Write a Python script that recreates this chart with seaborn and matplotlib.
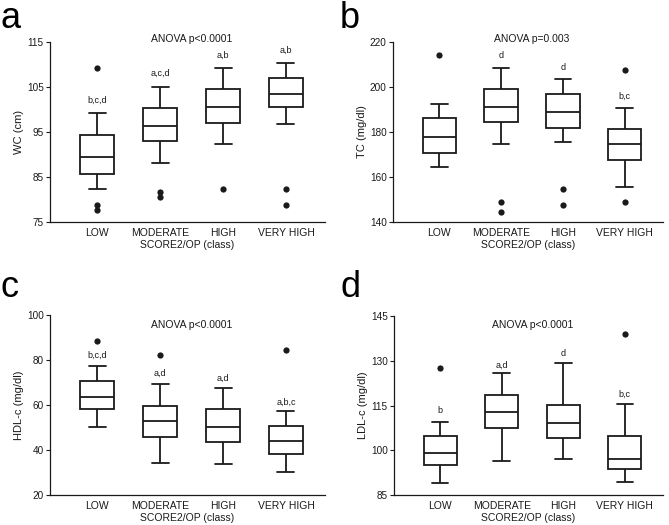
import numpy as np
import pandas as pd
import matplotlib
matplotlib.use("Agg")
import matplotlib.pyplot as plt
import seaborn as sns

# ---------------------------------------------------------------------------
# data (box = whisker low, Q1, median, Q3, whisker high)
# ---------------------------------------------------------------------------
CATS = ["LOW", "MODERATE", "HIGH", "VERY HIGH"]

# a) waist circumference
wc_whislo = [82.3, 88.2, 92.3, 96.7]
wc_q1 = [85.6, 93.0, 97.1, 100.6]
wc_med = [89.5, 96.4, 100.5, 103.4]
wc_q3 = [94.4, 100.3, 104.5, 106.9]
wc_whishi = [99.2, 105.1, 109.2, 110.3]
wc_out_group = ["LOW", "LOW", "LOW", "MODERATE", "MODERATE", "HIGH", "VERY HIGH", "VERY HIGH"]
wc_out_value = [109.2, 78.8, 77.7, 81.6, 80.5, 82.4, 82.4, 78.8]
wc_letters = ["b,c,d", "a,c,d", "a,b", "a,b"]
wc_letter_y = [102.1, 108.0, 112.1, 113.2]

# b) total cholesterol
tc_whislo = [164.4, 174.8, 175.5, 155.7]
tc_q1 = [170.7, 184.4, 182.0, 167.5]
tc_med = [178.0, 191.0, 188.8, 174.6]
tc_q3 = [186.1, 199.0, 197.1, 181.3]
tc_whishi = [192.3, 208.3, 203.4, 190.7]
tc_out_group = ["LOW", "MODERATE", "MODERATE", "HIGH", "HIGH", "VERY HIGH", "VERY HIGH"]
tc_out_value = [214.2, 149.0, 144.3, 154.8, 147.4, 207.4, 149.0]
tc_letters = ["", "d", "d", "b,c"]
tc_letter_y = [0, 214.2, 208.6, 195.7]

# c) HDL cholesterol
hdl_whislo = [50.2, 34.2, 33.9, 30.1]
hdl_q1 = [58.2, 45.9, 43.6, 38.1]
hdl_med = [63.6, 52.9, 50.4, 43.9]
hdl_q3 = [70.7, 59.5, 58.2, 50.8]
hdl_whishi = [77.3, 69.3, 67.6, 57.3]
hdl_out_group = ["LOW", "MODERATE", "VERY HIGH"]
hdl_out_value = [88.4, 82.3, 84.3]
hdl_letters = ["b,c,d", "a,d", "a,d", "a,b,c"]
hdl_letter_y = [82.2, 73.9, 71.7, 61.0]

# d) LDL cholesterol
ldl_whislo = [88.9, 96.5, 97.1, 89.5]
ldl_q1 = [95.1, 107.6, 104.2, 93.7]
ldl_med = [99.0, 112.7, 109.1, 97.0]
ldl_q3 = [104.7, 118.5, 115.1, 104.7]
ldl_whishi = [109.4, 125.8, 129.1, 115.4]
ldl_out_group = ["LOW", "VERY HIGH"]
ldl_out_value = [127.5, 138.9]
ldl_letters = ["b", "a,d", "d", "b,c"]
ldl_letter_y = [113.2, 128.5, 132.5, 118.9]

ANOVA_TEXT = ["ANOVA p<0.0001", "ANOVA p=0.003", "ANOVA p<0.0001", "ANOVA p<0.0001"]
ANOVA_Y = [115.6, 221.2, 95.6, 142.0]
YLABELS = ["WC (cm)", "TC (mg/dl)", "HDL-c (mg/dl)", "LDL-c (mg/dl)"]
YTICKS = [[75, 85, 95, 105, 115], [140, 160, 180, 200, 220],
          [20, 40, 60, 80, 100], [85, 100, 115, 130, 145]]
PANEL_TAGS = ["a", "b", "c", "d"]

LINE = "#1a1a1a"

sns.set_theme(style="ticks")
plt.rcParams["font.family"] = ["Liberation Sans", "DejaVu Sans"]


def draw_panel(ax, whislo, q1, med, q3, whishi, out_group, out_value,
               letters, letter_y, anova, anova_y, ylabel, yticks):
    vals = np.column_stack([whislo, q1, med, q3, whishi]).ravel()
    box_df = pd.DataFrame({"group": np.repeat(CATS, 5), "value": vals})
    sns.boxplot(data=box_df, x="group", y="value", order=CATS, whis=(0, 100),
                width=0.54, color="white", linecolor=LINE, linewidth=1.3,
                showfliers=False, ax=ax)
    sns.stripplot(x=out_group, y=out_value, order=CATS, jitter=False,
                  color=LINE, size=4.5, linewidth=0, ax=ax)

    for i, (txt, ty) in enumerate(zip(letters, letter_y)):
        if txt:
            ax.text(i, ty, txt, ha="center", va="center", fontsize=6.5, color=LINE)
    ax.text(1.5, anova_y, anova, ha="center", va="center", fontsize=7.5, color=LINE)

    ax.set_xlim(-0.75, 3.62)
    ax.set_ylim(yticks[0], yticks[-1])
    ax.set_yticks(yticks)
    ax.set_ylabel(ylabel, fontsize=8, labelpad=2, color=LINE)
    ax.set_xlabel("SCORE2/OP (class)", fontsize=7.5, labelpad=2, color=LINE)
    ax.tick_params(axis="x", length=0, pad=4, labelsize=7.5, colors=LINE)
    ax.tick_params(axis="y", length=3, width=0.8, pad=1.5, labelsize=7.2, colors=LINE)
    for side in ["left", "bottom"]:
        ax.spines[side].set_linewidth(0.9)
        ax.spines[side].set_color(LINE)
    sns.despine(ax=ax)


fig = plt.figure(figsize=(6.69, 5.25), dpi=100)
W, H = 669.0, 525.0
# axes boxes in pixels: left, right, top, bottom
boxes = [(50, 325, 42, 222), (393, 663, 42, 222),
         (50, 325, 315, 495), (394, 663, 316, 495)]
axes = [fig.add_axes([l / W, 1 - b / H, (r - l) / W, (b - t) / H])
        for l, r, t, b in boxes]

draw_panel(axes[0], wc_whislo, wc_q1, wc_med, wc_q3, wc_whishi, wc_out_group,
           wc_out_value, wc_letters, wc_letter_y, ANOVA_TEXT[0], ANOVA_Y[0],
           YLABELS[0], YTICKS[0])
draw_panel(axes[1], tc_whislo, tc_q1, tc_med, tc_q3, tc_whishi, tc_out_group,
           tc_out_value, tc_letters, tc_letter_y, ANOVA_TEXT[1], ANOVA_Y[1],
           YLABELS[1], YTICKS[1])
draw_panel(axes[2], hdl_whislo, hdl_q1, hdl_med, hdl_q3, hdl_whishi, hdl_out_group,
           hdl_out_value, hdl_letters, hdl_letter_y, ANOVA_TEXT[2], ANOVA_Y[2],
           YLABELS[2], YTICKS[2])
draw_panel(axes[3], ldl_whislo, ldl_q1, ldl_med, ldl_q3, ldl_whishi, ldl_out_group,
           ldl_out_value, ldl_letters, ldl_letter_y, ANOVA_TEXT[3], ANOVA_Y[3],
           YLABELS[3], YTICKS[3])

# panel tags
tag_pos = [(1, 28), (340, 28), (1, 297), (340, 297)]
for tag, (px, py) in zip(PANEL_TAGS, tag_pos):
    fig.text(px / W, 1 - py / H, tag, fontsize=26, va="baseline", ha="left", color="black")

fig.savefig("out.png", dpi=100)
